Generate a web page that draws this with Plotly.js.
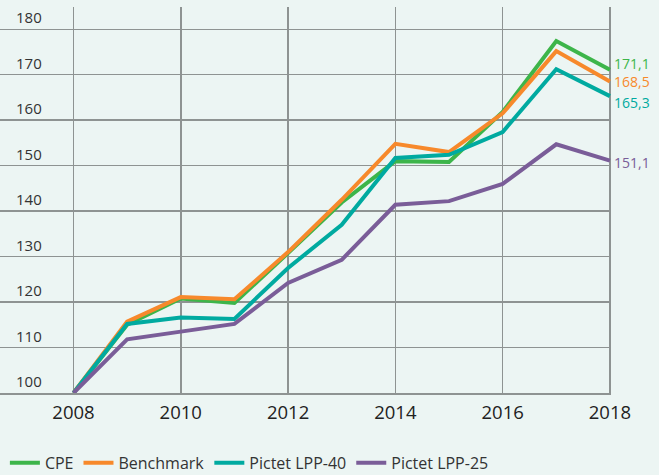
<!DOCTYPE html>
<html>
<head>
<meta charset="utf-8">
<script src="https://cdn.plot.ly/plotly-3.0.1.min.js"></script>
<style>html,body{margin:0;padding:0;background:#ecf5f3;}#chart{width:659px;height:475px;}</style>
</head>
<body>
<div id="chart"></div>
<script>
var years = [2008, 2009, 2010, 2011, 2012, 2013, 2014, 2015, 2016, 2017, 2018];
var cpe = [100, 115.0, 120.8, 119.8, 130.8, 141.9, 151.0, 150.8, 161.8, 177.4, 171.1];
var benchmark = [100, 115.7, 121.1, 120.6, 131.0, 142.5, 154.8, 153.0, 161.5, 175.2, 168.5];
var lpp40 = [100, 115.2, 116.6, 116.3, 127.5, 137.0, 151.7, 152.4, 157.4, 171.2, 165.3];
var lpp25 = [100, 111.8, 113.5, 115.2, 124.2, 129.3, 141.4, 142.2, 146.0, 154.7, 151.1];
var seriesNames = ['CPE', 'Benchmark', 'Pictet LPP-40', 'Pictet LPP-25'];
var endLabels = ['171,1', '168,5', '165,3', '151,1'];
var xTicks = [2008, 2010, 2012, 2014, 2016, 2018];
var yTicks = [100, 110, 120, 130, 140, 150, 160, 170, 180];

var colors = ['#3db54a', '#f7892b', '#00aaa0', '#7a5d98'];
var series = [cpe, benchmark, lpp40, lpp25];
var traces = series.map(function (s, i) {
  return {
    x: years, y: s, name: seriesNames[i], type: 'scatter', mode: 'lines',
    line: {color: colors[i], width: 4}, hoverinfo: 'skip'
  };
});
var labelShift = [6, 0, -6, -2];
var annotations = series.map(function (s, i) {
  return {
    x: years[years.length - 1], y: s[s.length - 1], xref: 'x', yref: 'y',
    text: endLabels[i], showarrow: false, xanchor: 'left', yanchor: 'middle',
    xshift: 3, yshift: labelShift[i], borderpad: 0,
    font: {family: 'Open Sans, sans-serif', size: 14, color: colors[i]}
  };
});
yTicks.forEach(function (v) {
  annotations.push({
    x: 44 / 611, xref: 'paper', y: v, yref: 'y', text: String(v), showarrow: false,
    xanchor: 'right', yanchor: 'middle', yshift: 12,
    font: {family: 'Open Sans, sans-serif', size: 15, color: '#333'}
  });
});
var gridColor = '#8e9392';
var layout = {
  width: 659, height: 475,
  paper_bgcolor: '#ecf5f3', plot_bgcolor: '#ecf5f3',
  margin: {l: 0, r: 48, t: 7, b: 82, autoexpand: false},
  showlegend: true,
  legend: {orientation: 'h', x: 0.008, xanchor: 'left', y: -0.181, yanchor: 'middle',
    font: {family: 'Open Sans, sans-serif', size: 16, color: '#333'}, bgcolor: 'rgba(0,0,0,0)'},
  xaxis: {
    range: [2006.63, 2018.02], tickvals: xTicks, ticktext: xTicks.map(String),
    showgrid: true, gridcolor: gridColor, gridwidth: 1.5, zeroline: false,
    showline: true, linecolor: gridColor, linewidth: 1.5, ticks: '', automargin: false,
    tickfont: {family: 'Open Sans, sans-serif', size: 18.5, color: '#222'},
    ticklabelstandoff: 2, fixedrange: true
  },
  yaxis: {
    range: [100, 184.9], tickvals: yTicks,
    showgrid: true, gridcolor: gridColor, gridwidth: 1.5, zeroline: false,
    showline: false, ticks: '', showticklabels: false, automargin: false, fixedrange: true
  },
  annotations: annotations
};
Plotly.newPlot('chart', traces, layout, {displayModeBar: false, staticPlot: true});
</script>
</body>
</html>
